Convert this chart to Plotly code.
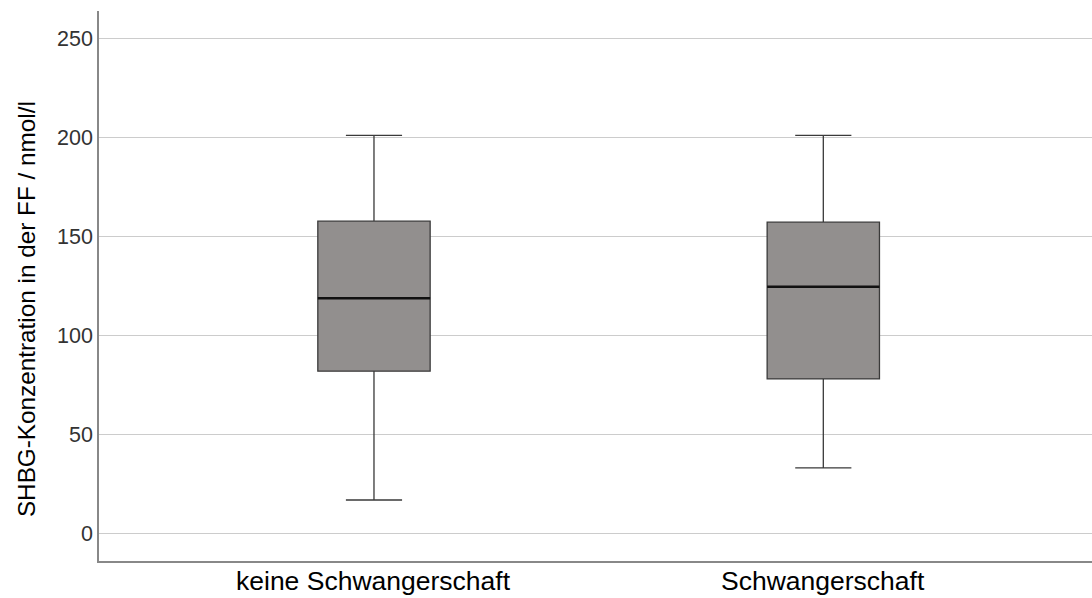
import plotly.graph_objects as go

categories = ["keine Schwangerschaft", "Schwangerschaft"]
lower_whisker = [17.0, 33.2]
q1_values = [82.0, 78.1]
median_values = [118.8, 124.6]
q3_values = [157.7, 157.2]
upper_whisker = [201.0, 201.0]
y_ticks = [0, 50, 100, 150, 200, 250]
y_title = "SHBG-Konzentration in der FF / nmol/l"

positions = list(range(len(categories)))
box_width = 0.25

fig = go.Figure()
for i, cat in enumerate(categories):
    fig.add_trace(go.Box(
        x=[positions[i]],
        q1=[q1_values[i]], median=[median_values[i]], q3=[q3_values[i]],
        lowerfence=[lower_whisker[i]], upperfence=[upper_whisker[i]],
        width=box_width, whiskerwidth=0.5,
        fillcolor="#928f8e",
        line=dict(color="#3a3a3a", width=1.3),
        name=cat, showlegend=False, hoverinfo="skip",
    ))
    fig.add_trace(go.Scatter(
        x=[positions[i] - box_width / 2, positions[i] + box_width / 2],
        y=[median_values[i], median_values[i]],
        mode="lines", line=dict(color="#111111", width=2.5),
        showlegend=False, hoverinfo="skip",
    ))
    fig.add_annotation(
        text=cat, xref="x", yref="paper", x=positions[i], y=0,
        xanchor="center", yanchor="top", yshift=-3, showarrow=False,
        font=dict(size=26.5, color="#000000"),
    )

fig.add_annotation(
    text=y_title, textangle=-90,
    xref="paper", yref="paper", x=-0.0735, y=0.458,
    xanchor="center", yanchor="middle", showarrow=False,
    font=dict(size=24.3, color="#000000"),
)

fig.update_layout(
    width=1092, height=598,
    margin=dict(l=99, r=0, t=11, b=37),
    paper_bgcolor="white", plot_bgcolor="white",
    font=dict(family="Liberation Sans, Arial, sans-serif"),
    xaxis=dict(
        range=[-0.612, 1.598], automargin=False,
        tickmode="array", tickvals=positions, showticklabels=False,
        showgrid=False, zeroline=False,
        showline=True, linecolor="#888888", linewidth=1.5,
        ticks="", ticklen=0,
    ),
    yaxis=dict(
        range=[-13.8, 263.8], automargin=False,
        tickmode="array", tickvals=y_ticks,
        tickfont=dict(size=21.5, color="#333333"),
        showgrid=True, gridcolor="#cccccc", gridwidth=1.3,
        zeroline=False,
        showline=True, linecolor="#888888", linewidth=1.5,
        ticks="", ticklen=0,
    ),
)

fig.write_html("out.html")
